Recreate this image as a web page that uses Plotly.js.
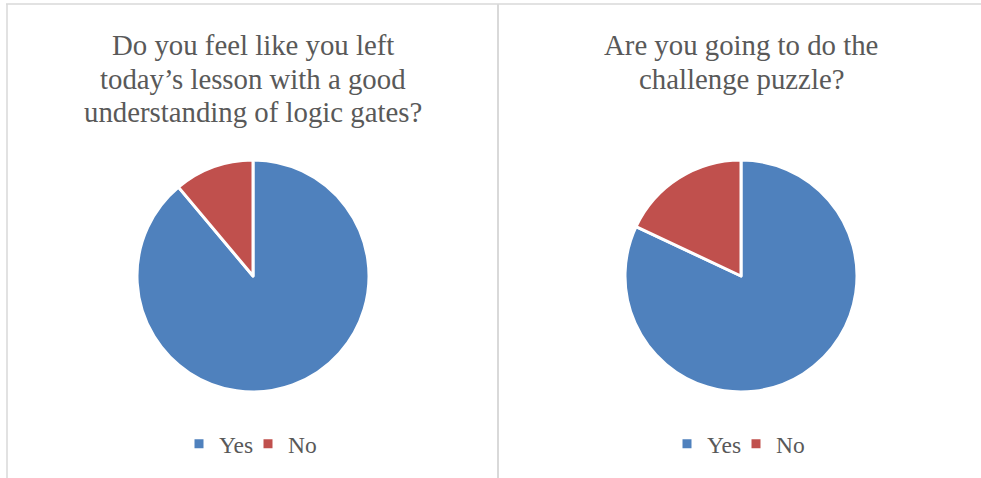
<!DOCTYPE html>
<html>
<head>
<meta charset="utf-8">
<script src="https://cdn.plot.ly/plotly-3.0.1.min.js"></script>
<style>
html,body{margin:0;padding:0;background:#fff;}
#wrap{position:relative;width:981px;height:478px;}
.layer{position:absolute;left:0;top:0;width:981px;height:478px;}
</style>
</head>
<body>
<div id="wrap"><div id="chart1" class="layer"></div><div id="chart2" class="layer"></div></div>
<script>
const labels = ["Yes", "No"];
const q1Values = [8, 1];
const q2Values = [82, 18];
const q1TitleLines = ["Do you feel like you left", "today’s lesson with a good", "understanding of logic gates?"];
const q2TitleLines = ["Are you going to do the", "challenge puzzle?"];
const colors = ["#4F81BD", "#C0504D"];

const W = 981, H = 478;
const px = v => v / W;
const py = v => 1 - v / H;
const serif = "'Liberation Serif', 'Times New Roman', serif";
const grey = "#595959";
const lineCol = "#d9d9d9";

function pieTrace(values, cx) {
  return {
    type: "pie",
    labels: labels,
    values: values,
    sort: false,
    direction: "clockwise",
    rotation: 0,
    textinfo: "none",
    hoverinfo: "label+value+percent",
    marker: {colors: colors, line: {color: "#ffffff", width: 3}},
    domain: {x: [px(cx - 116), px(cx + 116)], y: [py(392), py(160)]},
    showlegend: true
  };
}

function titleAnns(lines, cx) {
  return lines.map((t, i) => ({
    text: t, x: px(cx), y: py(45.5 + i * 33.5), xref: "paper", yref: "paper",
    xanchor: "center", yanchor: "middle", showarrow: false,
    font: {family: serif, size: 28.8, color: grey}
  }));
}

function makeLayout(cx, bg, extraShapes) {
  return {
    width: W,
    height: H,
    margin: {l: 0, r: 0, t: 0, b: 0},
    paper_bgcolor: bg,
    plot_bgcolor: "rgba(0,0,0,0)",
    legend: {
      orientation: "h",
      xanchor: "center",
      yanchor: "middle",
      x: px(cx - 5),
      y: py(444),
      font: {family: serif, size: 23.5, color: grey},
      bgcolor: "rgba(0,0,0,0)",
      entrywidth: 24,
      entrywidthmode: "pixels"
    },
    annotations: cx < 500 ? titleAnns(q1TitleLines, cx) : titleAnns(q2TitleLines, cx),
    shapes: extraShapes
  };
}

const borders = [
  {type: "line", xref: "paper", yref: "paper", x0: px(6), x1: 1, y0: py(4), y1: py(4), line: {color: lineCol, width: 1.5}},
  {type: "line", xref: "paper", yref: "paper", x0: px(7), x1: px(7), y0: py(4), y1: 0, line: {color: lineCol, width: 1.5}},
  {type: "line", xref: "paper", yref: "paper", x0: px(498), x1: px(498), y0: py(4), y1: 0, line: {color: lineCol, width: 2}}
];

const cfg = {displayModeBar: false, staticPlot: true};
Plotly.newPlot("chart1", [pieTrace(q1Values, 253)], makeLayout(253, "#ffffff", borders), cfg);
Plotly.newPlot("chart2", [pieTrace(q2Values, 741)], makeLayout(741, "rgba(0,0,0,0)", []), cfg);
</script>
</body>
</html>
